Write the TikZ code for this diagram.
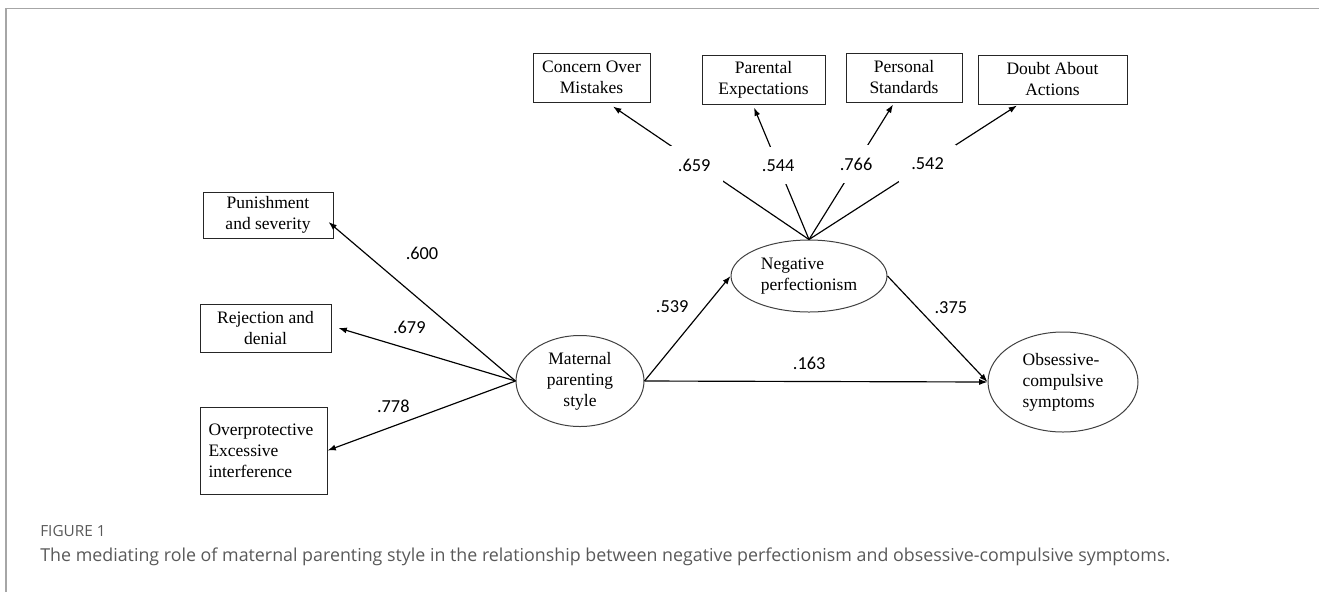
\documentclass[tikz,border=0pt]{standalone}
\usepackage{fontspec}
\setmainfont{Liberation Serif}
\newfontfamily\numfont{Carlito}
\newfontfamily\capfont{Open Sans}
\usetikzlibrary{shapes.geometric,arrows.meta,calc}
\tikzset{mybox/.style={draw=black!85,line width=0.6pt,rectangle,inner sep=0pt,align=center,font=\fontsize{10.5}{12.6}\selectfont}}
\tikzset{myellipse/.style={draw=black!75,line width=0.6pt,ellipse,inner sep=0pt,font=\fontsize{10.5}{12.6}\selectfont}}
\tikzset{mydraw/.style={black,line width=0.7pt,-{Latex[length=5pt,width=3.6pt]}}}
\tikzset{mylabel/.style={font=\numfont\fontsize{11}{13}\selectfont}}

\begin{document}
\begin{tikzpicture}[x=0.6pt,y=-0.6pt]
	\useasboundingbox (0,0) rectangle (1319,592);
	\draw[black!35,line width=1.1pt] (6,592) -- (6,8.5) -- (1319,8.5); % frame

	% latent variables
	\node[myellipse,align=center,minimum width=76.8pt,minimum height=54.6pt] (mat) at (580,381) {Maternal\\parenting\\style};
	\node[myellipse,align=left,minimum width=93.6pt,minimum height=43.2pt] (neg) at (809,276) {Negative\\perfectionism};
	\node[myellipse,align=left,minimum width=90pt,minimum height=60pt] (obs) at (1063,382) {Obsessive-\\compulsive\\symptoms};

	% indicators
	\node[mybox,minimum width=70.2pt,minimum height=29.4pt] (com) at (591.5,77.5) {Concern Over\\Mistakes};
	\node[mybox,minimum width=73.8pt,minimum height=29.4pt] (par) at (763.5,79.5) {Parental\\Expectations};
	\node[mybox,minimum width=69.6pt,minimum height=29.4pt] (per) at (904,77.5) {Personal\\Standards};
	\node[mybox,minimum width=89.4pt,minimum height=29.4pt] (dou) at (1052.5,79.5) {Doubt About\\Actions};
	\node[mybox,minimum width=78pt,minimum height=27.6pt] (pun) at (268,215) {Punishment\\and severity};
	\node[mybox,minimum width=78.6pt,minimum height=28.8pt] (rej) at (265.5,328) {Rejection and\\denial};
	\node[mybox,align=left,minimum width=76.2pt,minimum height=52.2pt,text width=66pt] (ove) at (263.5,450.5) {Overprotective\\Excessive\\interference};

	% loadings
	\draw[mydraw] (mat.west) -- node[mylabel,pos=0.5,yshift=29pt] {.600} ($(pun.east)+(-5,7)$);
	\draw[mydraw] (mat.west) -- node[mylabel,pos=0.6,yshift=13pt] {.679} ($(rej.east)+(7,0)$);
	\draw[mydraw] (mat.west) -- node[mylabel,pos=0.65,yshift=12pt] {.778} (ove.east);

	\draw[mydraw] (neg.north) -- node[mylabel,pos=0.56,xshift=-3pt,fill=white,inner sep=7.5pt] {.659} ($(com.south)+(21.5,4)$);
	\draw[mydraw] (neg.north) -- node[mylabel,pos=0.56,fill=white,inner sep=7.5pt] {.544} ($(par.south)+(-9.5,3)$);
	\draw[mydraw] (neg.north) -- node[mylabel,pos=0.56,fill=white,inner sep=7.5pt] {.766} ($(per.south)+(-11,2)$);
	\draw[mydraw] (neg.north) -- node[mylabel,pos=0.57,fill=white,inner sep=7.5pt] {.542} ($(dou.south)+(-35.5,1)$);

	% paths
	\draw[mydraw] (mat.east) -- node[mylabel,pos=0.71,xshift=-20pt] {.539} (neg.west);
	\draw[mydraw] (mat.east) -- node[mylabel,pos=0.48,yshift=11pt] {.163} (obs.west);
	\draw[mydraw] (neg.east) -- node[mylabel,pos=0.3,xshift=20pt] {.375} (obs.west);

	% caption
	\node[anchor=base west,inner sep=0pt,text=black!65,font=\capfont\fontsize{9.2}{11}\selectfont] (fig) at (40,536) {FIGURE 1};
	\node[anchor=base west,inner sep=0pt,text=black!65,font=\capfont\fontsize{10.7}{13}\selectfont] (cap) at (40,561) {The mediating role of maternal parenting style in the relationship between negative perfectionism and obsessive-compulsive symptoms.};
\end{tikzpicture}
\end{document}
